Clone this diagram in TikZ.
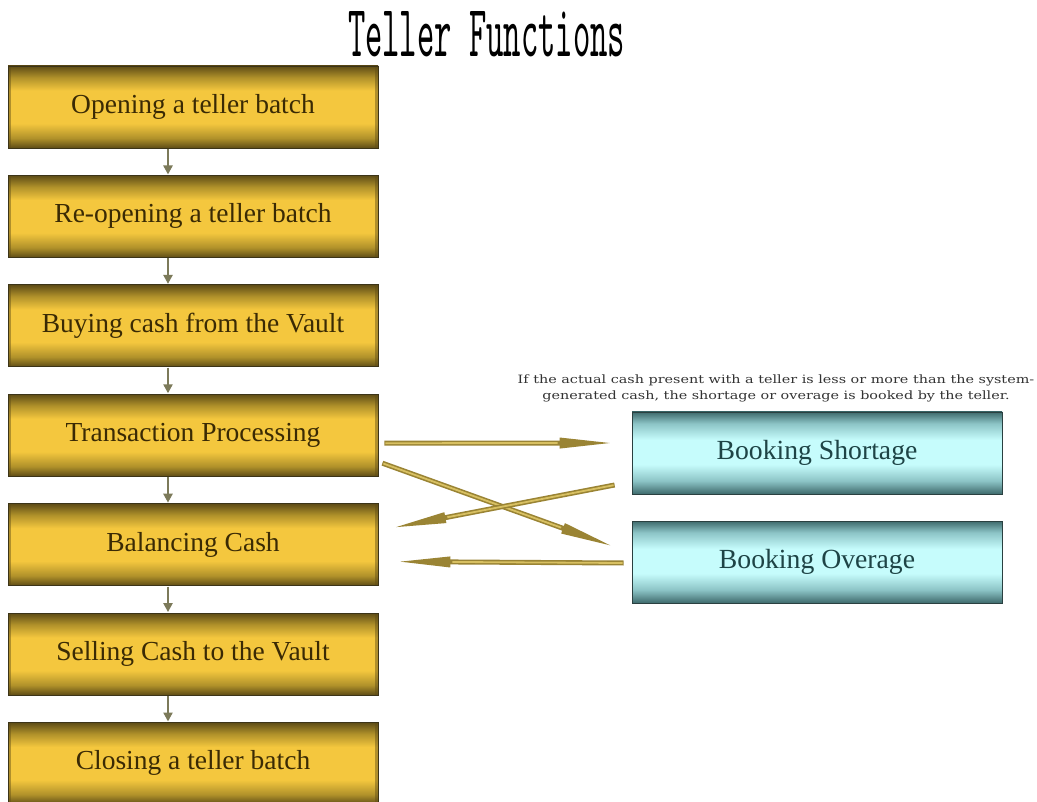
\documentclass[tikz,border=0pt]{standalone}
\usepackage{fontspec}
\usepackage{graphicx}
\setmainfont{Liberation Serif}
\newfontfamily\titlefont{Latin Modern Mono}
\newfontfamily\notefont{DejaVu Serif}
\usetikzlibrary{arrows.meta,calc}
\definecolor{gd}{HTML}{5E4C16}
\definecolor{gm}{HTML}{B0912A}
\definecolor{gl}{HTML}{F4C73E}
\definecolor{golddraw}{HTML}{3C3418}
\definecolor{goldtext}{HTML}{3A2A04}
\definecolor{cd}{HTML}{3E6A6C}
\definecolor{cm}{HTML}{8CC4C6}
\definecolor{cl}{HTML}{C6FCFC}
\definecolor{cyandraw}{HTML}{2A4040}
\definecolor{cyantext}{HTML}{1E4446}
\definecolor{spearcol}{HTML}{9A8434}
\definecolor{spearhi}{HTML}{D8C062}
\definecolor{downcol}{HTML}{7C7A5A}
\pgfdeclareverticalshading{goldshade}{100bp}{color(0bp)=(gd); color(25bp)=(gd); color(31bp)=(gm); color(40bp)=(gl); color(60bp)=(gl); color(68bp)=(gm); color(75bp)=(gd); color(100bp)=(gd)}
\pgfdeclareverticalshading{cyanshade}{100bp}{color(0bp)=(cd); color(25bp)=(cd); color(33bp)=(cm); color(43bp)=(cl); color(58bp)=(cl); color(68bp)=(cm); color(75bp)=(cd); color(100bp)=(cd)}
\tikzset{
  goldbox/.style={rectangle, draw=golddraw, line width=0.8pt, shade, shading=goldshade,
    minimum width=370pt, minimum height=82pt, inner sep=0pt,
    font=\fontsize{27.5}{31}\selectfont, text=goldtext,
    path picture={
      \fill[gd, opacity=0.45] (path picture bounding box.south west) rectangle ([xshift=3pt]path picture bounding box.north west);
      \fill[gd, opacity=0.45] (path picture bounding box.south east) rectangle ([xshift=-3pt]path picture bounding box.north east);
    }},
  cyanbox/.style={rectangle, draw=cyandraw, line width=0.8pt, shade, shading=cyanshade,
    minimum width=370pt, minimum height=82pt, inner sep=0pt,
    font=\fontsize{27.7}{31}\selectfont, text=cyantext},
  downarrow/.style={draw=downcol, line width=2.8pt, -{Triangle[length=9pt,width=9pt]}},
  spear/.style={draw=spearcol, line width=5pt, -{Triangle[length=58pt,width=9.5pt]}},
  spearhl/.style={draw=spearhi, line width=1.8pt, shorten >=60pt, shorten <=1pt},
}
\begin{document}
\begin{tikzpicture}[x=1pt,y=-1pt]
\useasboundingbox[fill=white] (0,0) rectangle (1037,802);
\node[anchor=base, inner sep=0pt] (title) at (486.5,57) {\resizebox{277pt}{45pt}{\titlefont Teller Functions}};
\node[goldbox] (b1) at (193,107) {Opening a teller batch};
\node[goldbox] (b2) at (193,216.4) {Re-opening a teller batch};
\node[goldbox] (b3) at (193,325.8) {Buying cash from the Vault};
\node[goldbox] (b4) at (193,435.2) {Transaction Processing};
\node[goldbox] (b5) at (193,544.6) {Balancing Cash};
\node[goldbox] (b6) at (193,654) {Selling Cash to the Vault};
\node[goldbox] (b7) at (193,763.4) {Closing a teller batch};
\node[cyanbox] (s1) at (817,453) {Booking Shortage};
\node[cyanbox] (s2) at (817,562) {Booking Overage};
\node[inner sep=0pt, text=black!80] (note) at (776,388)
  {\scalebox{1.25}[1]{\notefont\fontsize{11.5}{16.5}\selectfont\begin{tabular}{@{}c@{}}If the actual cash present with a teller is less or more than the system-\\generated cash, the shortage or overage is booked by the teller.\end{tabular}}};
\foreach \a/\b in {b1/b2,b2/b3,b3/b4,b4/b5,b5/b6,b6/b7}
  \draw[downarrow] ($(\a.south)+(-25,0.5)$) -- ($(\b.north)+(-25,-0.5)$);
\coordinate (a1s) at ($(b4.east)+(6,8)$);
\coordinate (a1e) at ($(s1.west)+(-14,-10)$);
\coordinate (a2s) at ($(b4.east)+(4,28)$);
\coordinate (a2e) at ($(s2.west)+(-14,-14)$);
\coordinate (a3s) at ($(s1.west)+(-17,32)$);
\coordinate (a3e) at ($(b5.east)+(10,-16)$);
\coordinate (a4s) at ($(s2.west)+(-8,1)$);
\coordinate (a4e) at ($(b5.east)+(14,17)$);
\foreach \s/\e in {a1s/a1e,a2s/a2e,a3s/a3e,a4s/a4e}{
  \draw[spear] (\s) -- (\e);
  \draw[spearhl] (\s) -- (\e);
}
\end{tikzpicture}
\end{document}
